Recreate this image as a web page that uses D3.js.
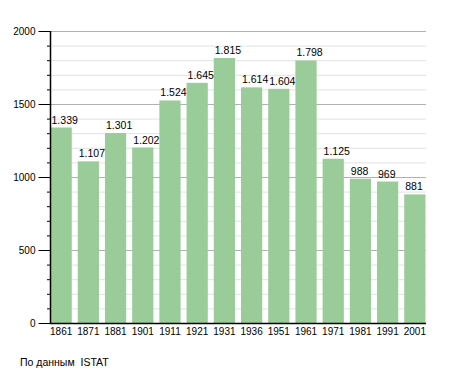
<!DOCTYPE html>
<html>
<head>
<meta charset="utf-8">
<script src="https://cdn.jsdelivr.net/npm/d3@7"></script>
<style>
body { margin: 0; background: #fff; }
text { font-family: "Liberation Sans", Arial, sans-serif; fill: #000; }
</style>
</head>
<body>
<svg id="chart" width="455" height="373"></svg>
<script>
var years = ['1861', '1871', '1881', '1901', '1911', '1921', '1931', '1936', '1951', '1961', '1971', '1981', '1991', '2001'];
var population = [1339, 1107, 1301, 1202, 1524, 1645, 1815, 1614, 1604, 1798, 1125, 988, 969, 881];
var majorTicks = [0, 500, 1000, 1500, 2000];

var svg = d3.select('#chart');
var pLeft = 50, pRight = 426, pTop = 31, pBottom = 323;

var x = d3.scaleBand()
    .domain(years)
    .range([pLeft, pRight])
    .paddingInner(0.22)
    .paddingOuter(0.02);
var y = d3.scaleLinear().domain([0, 2000]).range([pBottom, pTop]);

var minor = d3.range(0, 2001, 100);

// grid
svg.append('g').selectAll('line')
    .data(minor.filter(function(v) { return v % 500 != 0; }))
    .enter().append('line')
    .attr('x1', pLeft).attr('x2', pRight)
    .attr('y1', function(d) { return y(d) + 0.5; })
    .attr('y2', function(d) { return y(d) + 0.5; })
    .attr('stroke', '#e2e2e2');
svg.append('g').selectAll('line')
    .data(majorTicks.slice(1))
    .enter().append('line')
    .attr('x1', pLeft).attr('x2', pRight)
    .attr('y1', function(d) { return y(d) + 0.5; })
    .attr('y2', function(d) { return y(d) + 0.5; })
    .attr('stroke', '#b0b0b0');

// bars
svg.append('g').selectAll('rect')
    .data(population)
    .enter().append('rect')
    .attr('x', function(d, i) { return x(years[i]); })
    .attr('y', function(d) { return y(d); })
    .attr('width', x.bandwidth())
    .attr('height', function(d) { return pBottom - y(d); })
    .attr('fill', '#99cc99');

// value labels (left aligned on the bar)
svg.append('g').selectAll('text')
    .data(population)
    .enter().append('text')
    .attr('x', function(d, i) { return x(years[i]) + 1; })
    .attr('y', function(d) { return y(d) - 4; })
    .style('font-size', '10.5px')
    .text(function(d) { return d3.format(',')(d).replace(',', '.'); });

// y axis
var yAxis = d3.axisLeft(y).tickValues(majorTicks).tickSize(12).tickPadding(3).tickFormat(d3.format('d'));
var ya = svg.append('g').attr('transform', 'translate(' + (pLeft + 0.5) + ',0)').call(yAxis);
ya.select('.domain').remove();
ya.selectAll('text').style('font-size', '10px').style('font-family', '"Liberation Sans", Arial, sans-serif');
svg.append('g').selectAll('line')
    .data(minor)
    .enter().append('line')
    .attr('x1', pLeft - 3).attr('x2', pLeft)
    .attr('y1', function(d) { return y(d) + 0.5; })
    .attr('y2', function(d) { return y(d) + 0.5; })
    .attr('stroke', '#000');
svg.append('line')
    .attr('x1', pLeft + 0.5).attr('x2', pLeft + 0.5)
    .attr('y1', pTop).attr('y2', pBottom + 1)
    .attr('stroke', '#000').attr('stroke-width', 1.5);

// x axis
svg.append('line')
    .attr('x1', pLeft).attr('x2', pRight)
    .attr('y1', pBottom + 0.5).attr('y2', pBottom + 0.5)
    .attr('stroke', '#000').attr('stroke-width', 1.5);
svg.append('g').selectAll('text')
    .data(years)
    .enter().append('text')
    .attr('x', function(d) { return x(d) + x.bandwidth() / 2; })
    .attr('y', pBottom + 12)
    .attr('text-anchor', 'middle')
    .style('font-size', '10px')
    .text(function(d) { return d; });

svg.append('text')
    .attr('x', 20).attr('y', 366)
    .style('font-size', '10.5px')
    .attr('xml:space', 'preserve')
    .text('По данным  ISTAT');
</script>
</body>
</html>
